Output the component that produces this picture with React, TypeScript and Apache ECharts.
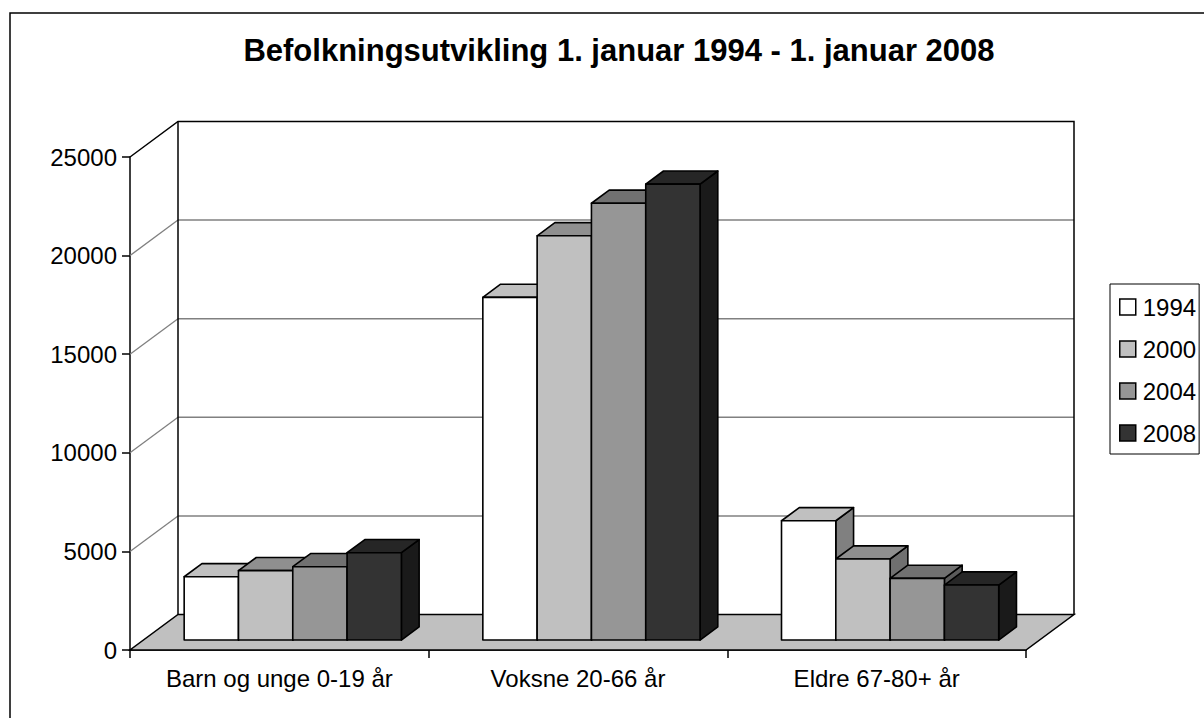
import React, { useEffect, useRef } from "react";
import * as echarts from "echarts";

const chartTitle = "Befolkningsutvikling 1. januar 1994 - 1. januar 2008";
const categories = ["Barn og unge 0-19 år", "Voksne 20-66 år", "Eldre 67-80+ år"];
const years = ["1994", "2000", "2004", "2008"];
const v1994 = [3210, 17380, 6050];
const v2000 = [3520, 20500, 4110];
const v2004 = [3720, 22150, 3130];
const v2008 = [4430, 23120, 2790];
const seriesValues = [v1994, v2000, v2004, v2008];
const yTicks = [0, 5000, 10000, 15000, 20000, 25000];

const frontColors = ["#ffffff", "#c0c0c0", "#969696", "#333333"];
const topColors = ["#c0c0c0", "#8f8f8f", "#717171", "#262626"];
const sideColors = ["#808080", "#707070", "#5a5a5a", "#1a1a1a"];

const FONT = "'Liberation Sans', Arial, sans-serif";
const DX = 48;
const DY = 35.5;
const BAR_D0 = 0.28;
const BAR_DEPTH = 0.37;
const GAP = 1.5;

const edge = { stroke: "#000", lineWidth: 1.6, lineJoin: "round" as const };

const makeBarRender = (k: number) => (params: any, api: any) => {
  const cat = api.value(0);
  const val = api.value(1);
  const band = api.size([1, 0])[0];
  const w = band / (years.length + GAP);
  const p0 = api.coord([cat, 0]);
  const p1 = api.coord([cat, val]);
  const ox = DX * BAR_D0;
  const oy = -DY * BAR_D0;
  const bx = DX * BAR_DEPTH;
  const by = -DY * BAR_DEPTH;
  const L = p0[0] + ox - (years.length / 2) * w + k * w;
  const R = L + w;
  const B = p0[1] + oy;
  const T = p1[1] + oy;
  return {
    type: "group",
    children: [
      {
        type: "polygon",
        shape: { points: [[R, T], [R + bx, T + by], [R + bx, B + by], [R, B]] },
        style: { fill: sideColors[k], ...edge },
      },
      {
        type: "polygon",
        shape: { points: [[L, T], [L + bx, T + by], [R + bx, T + by], [R, T]] },
        style: { fill: topColors[k], ...edge },
      },
      {
        type: "rect",
        shape: { x: L, y: T, width: w, height: B - T },
        style: { fill: frontColors[k], ...edge },
      },
    ],
  };
};

const renderFrame = (params: any, api: any) => {
  const cs = params.coordSys;
  const x0 = cs.x;
  const x1 = cs.x + cs.width;
  const yb = api.coord([0, yTicks[0]])[1];
  const yt = api.coord([0, yTicks[yTicks.length - 1]])[1];
  const children: any[] = [];
  yTicks.slice(1, -1).forEach((t) => {
    const y = api.coord([0, t])[1];
    children.push({
      type: "line",
      shape: { x1: x0 + DX, y1: y - DY, x2: x1 + DX, y2: y - DY },
      style: { stroke: "#808080", lineWidth: 1.5 },
    });
    children.push({
      type: "line",
      shape: { x1: x0, y1: y, x2: x0 + DX, y2: y - DY },
      style: { stroke: "#808080", lineWidth: 1.3 },
    });
  });
  children.push({
    type: "polygon",
    shape: { points: [[x0, yb], [x1, yb], [x1 + DX, yb - DY], [x0 + DX, yb - DY]] },
    style: { fill: "#c0c0c0", stroke: "#000", lineWidth: 1.5 },
  });
  children.push({
    type: "polyline",
    shape: { points: [[x0, yt], [x0 + DX, yt - DY], [x1 + DX, yt - DY], [x1 + DX, yb - DY]] },
    style: { fill: "none", stroke: "#000", lineWidth: 1.5 },
  });
  children.push({
    type: "line",
    shape: { x1: x0 + DX, y1: yt - DY, x2: x0 + DX, y2: yb - DY },
    style: { stroke: "#000", lineWidth: 1.5 },
  });
  return { type: "group", children };
};

export default function App() {
  const ref = useRef<HTMLDivElement>(null);
  useEffect(() => {
    if (!ref.current) return;
    const chart = echarts.init(ref.current, null, { renderer: "svg" });
    const axisLineStyle = { color: "#000", width: 1.5 };
    chart.setOption({
      animation: false,
      backgroundColor: "#ffffff",
      title: {
        text: chartTitle,
        left: 614,
        top: 30,
        textAlign: "center",
        textStyle: { fontSize: 31, fontWeight: "bold", fontFamily: FONT, color: "#000" },
      },
      legend: {
        orient: "vertical",
        left: 1110,
        top: 284,
        padding: [11, 3, 9, 9],
        borderColor: "#000",
        borderWidth: 1,
        itemWidth: 16,
        itemHeight: 16,
        itemGap: 18,
        icon: "rect",
        selectedMode: false,
        data: years,
        itemStyle: { borderColor: "#000", borderWidth: 1.5 },
        textStyle: { fontSize: 24, lineHeight: 24, fontFamily: FONT, color: "#000", padding: [0, 0, 0, 2] },
      },
      grid: { left: 130, top: 157, width: 896, height: 493 },
      xAxis: {
        type: "category",
        data: categories,
        boundaryGap: true,
        axisLine: { show: true, lineStyle: axisLineStyle },
        axisTick: { show: true, length: 8, lineStyle: axisLineStyle },
        axisLabel: { color: "#000", fontSize: 24, fontFamily: FONT, margin: 16 },
        splitLine: { show: false },
      },
      yAxis: {
        type: "value",
        min: 0,
        max: 25000,
        interval: 5000,
        axisLine: { show: true, lineStyle: axisLineStyle },
        axisTick: { show: true, length: 8, lineStyle: axisLineStyle },
        axisLabel: {
          color: "#000",
          fontSize: 24,
          fontFamily: FONT,
          margin: 13,
          formatter: (v: number) => String(v),
        },
        splitLine: { show: false },
      },
      graphic: [
        {
          type: "rect",
          silent: true,
          z: -10,
          shape: { x: 10, y: 13, width: 1400, height: 1000 },
          style: { fill: "none", stroke: "#000", lineWidth: 1.5 },
        },
      ],
      series: [
        {
          type: "custom",
          name: "frame",
          silent: true,
          z: 1,
          renderItem: renderFrame,
          data: [[0, 0]],
          encode: { x: 0, y: 1 },
        },
        ...years.map((yr, k) => ({
          type: "custom",
          name: yr,
          silent: true,
          z: 2 + k,
          renderItem: makeBarRender(k),
          itemStyle: { color: frontColors[k], borderColor: "#000", borderWidth: 1.5 },
          data: seriesValues[k].map((v, i) => [i, v]),
          encode: { x: 0, y: 1 },
        })),
      ],
    });
    return () => chart.dispose();
  }, []);
  return (
    <div
      ref={ref}
      style={{ position: "fixed", left: 0, top: 0, width: 1204, height: 718, background: "#fff" }}
    />
  );
}
